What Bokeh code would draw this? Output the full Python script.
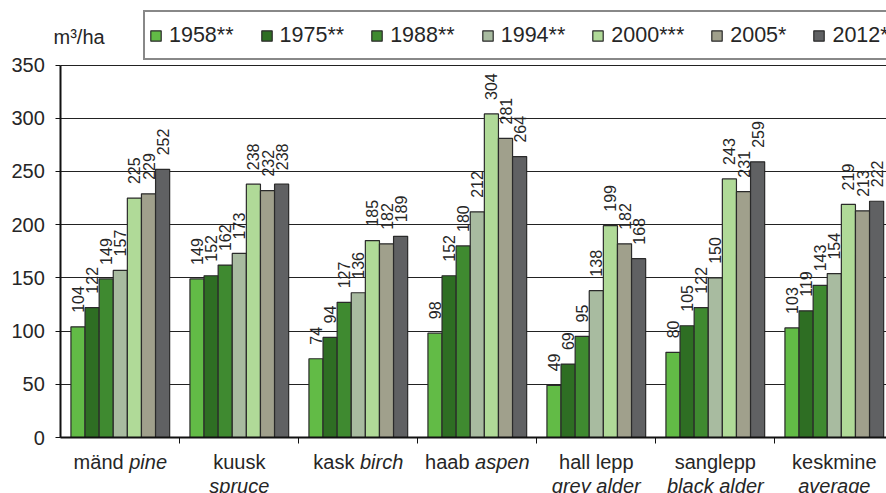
import numpy as np
from bokeh.plotting import figure
from bokeh.models import Range1d, FixedTicker, Legend, LegendItem, Label, Grid
from bokeh.embed import file_html
from bokeh.resources import INLINE
from bokeh.core.properties import value

# ---- data ----
categories_et = ["mänd", "kuusk", "kask", "haab", "hall lepp", "sanglepp", "keskmine"]
categories_en = ["pine", "spruce", "birch", "aspen", "grey alder", "black alder", "average"]
years = ["1958**", "1975**", "1988**", "1994**", "2000***", "2005*", "2012*"]
v1958 = [104, 149, 74, 98, 49, 80, 103]
v1975 = [122, 152, 94, 152, 69, 105, 119]
v1988 = [149, 162, 127, 180, 95, 122, 143]
v1994 = [157, 173, 136, 212, 138, 150, 154]
v2000 = [225, 238, 185, 304, 199, 243, 219]
v2005 = [229, 232, 182, 281, 182, 231, 213]
v2012 = [252, 238, 189, 264, 168, 259, 222]
y_ticks = [0, 50, 100, 150, 200, 250, 300, 350]
unit_label = "m³/ha"

series = [v1958, v1975, v1988, v1994, v2000, v2005, v2012]
colors = ["#62BB46", "#2E6E23", "#3F8A30", "#A8BBA0", "#B0DA98", "#A0A08C", "#606163"]
two_line = [False, True, False, False, True, True, True]

FONT = "Liberation Sans"
TXT = "#262626"

W, H = 886, 493
# pixel geometry of the plotting area (screen px)
AX_X = 60.3        # y-axis line x
AX_Y = 437.0       # x-axis line y (value 0)
CAT_W = 119.0      # px per category
PX_PER_VAL = 372.5 / 350.0

x_start = -AX_X / CAT_W
x_end = (W - AX_X) / CAT_W
y_end = AX_Y / PX_PER_VAL
y_start = (AX_Y - H) / PX_PER_VAL

p = figure(width=W, height=H, output_backend="svg", toolbar_location=None,
           title=None, x_range=Range1d(x_start, x_end), y_range=Range1d(y_start, y_end),
           min_border=0, min_border_left=0, min_border_right=0, min_border_top=0,
           min_border_bottom=0)
p.background_fill_color = "white"
p.border_fill_color = "white"
p.outline_line_color = None

n = len(categories_et)
bw = 0.1185
cx = np.arange(n) + 0.5
renderers = []
for j, (vals, col) in enumerate(zip(series, colors)):
    xs = cx + (j - 3) * bw
    r = p.vbar(x=xs, top=vals, width=bw, bottom=0, fill_color=col,
               line_color="#2a2a2a", line_width=1.2)
    renderers.append(r)
    p.text(x=xs, y=vals, text=[str(v) for v in vals], angle=np.pi / 2,
           text_align="left", text_baseline="middle", y_offset=-14,
           text_font=value(FONT), text_font_size="16px", text_color=TXT)

# axes (fixed inside the frame so that all annotations share the frame)
p.yaxis.fixed_location = 0
p.yaxis.bounds = (0, 350)
p.yaxis.ticker = FixedTicker(ticks=y_ticks)
p.yaxis.major_label_text_font = FONT
p.yaxis.major_label_text_font_size = "20px"
p.yaxis.major_label_text_color = TXT
p.yaxis.major_tick_in = 0
p.yaxis.major_tick_out = 5
p.yaxis.minor_tick_line_color = None
p.yaxis.major_label_standoff = 11
p.yaxis.axis_line_width = 2
p.yaxis.axis_line_color = "#111111"
p.yaxis.major_tick_line_color = "#111111"

p.xaxis.fixed_location = 0
p.xaxis.bounds = (0, x_end)
p.xaxis.ticker = FixedTicker(ticks=list(range(1, n)))
p.xaxis.major_label_overrides = {i: "" for i in range(1, n)}
p.xaxis.major_tick_in = 0
p.xaxis.major_tick_out = 6
p.xaxis.minor_tick_line_color = None
p.xaxis.axis_line_width = 2
p.xaxis.axis_line_color = "#111111"
p.xaxis.major_tick_line_color = "#111111"

p.xgrid.grid_line_color = None
p.ygrid.ticker = FixedTicker(ticks=y_ticks)
p.ygrid.grid_line_color = "#222222"
p.ygrid.grid_line_width = 1.2
if "cross_bounds" in Grid.properties():
    p.ygrid.cross_bounds = (0, x_end)
p.ygrid.bounds = (0, 350)

# category labels (normal Estonian + italic English)
cw = {'a': .556, 'b': .556, 'c': .5, 'd': .556, 'e': .556, 'g': .556, 'h': .556,
      'i': .222, 'k': .5, 'l': .222, 'm': .833, 'n': .556, 'p': .556, 'r': .333,
      's': .5, 'u': .556, 'ä': .556, ' ': .278, 't': .278, 'v': .5, 'y': .5, 'o': .556}
fs = 20.0
def tw(s):
    return sum(cw.get(ch, .556) for ch in s) * fs

y_line1 = (AX_Y - 461.0) / PX_PER_VAL
y_line2 = (AX_Y - 485.5) / PX_PER_VAL
for i in range(n):
    et, en = categories_et[i], categories_en[i]
    if two_line[i]:
        p.add_layout(Label(x=cx[i], y=y_line1, text=et, text_align="center",
                           text_baseline="alphabetic", text_font=FONT,
                           text_font_size="20px", text_color=TXT))
        p.add_layout(Label(x=cx[i], y=y_line2, text=en, text_align="center",
                           text_baseline="alphabetic", text_font=FONT,
                           text_font_style="italic",
                           text_font_size="20px", text_color=TXT))
    else:
        total = tw(et) + tw(" ") + tw(en)
        end_norm = -total / 2 + tw(et)
        start_it = end_norm + tw(" ")
        p.add_layout(Label(x=cx[i], y=y_line1, text=et, text_align="right",
                           x_offset=end_norm, text_baseline="alphabetic",
                           text_font=FONT, text_font_size="20px", text_color=TXT))
        p.add_layout(Label(x=cx[i], y=y_line1, text=en, text_align="left",
                           x_offset=start_it, text_baseline="alphabetic",
                           text_font=FONT, text_font_style="italic",
                           text_font_size="20px", text_color=TXT))

# unit label
p.add_layout(Label(x=(53.0 - AX_X) / CAT_W, y=(AX_Y - 36.0) / PX_PER_VAL, text=unit_label,
                   text_align="left", text_baseline="alphabetic", text_font=FONT,
                   text_font_size="20px", text_color=TXT))

legend = Legend(items=[LegendItem(label=y, renderers=[r]) for y, r in zip(years, renderers)],
                orientation="horizontal", location=(143, H - 60),
                glyph_width=13, glyph_height=13, label_standoff=7, spacing=26,
                padding=4, margin=0, label_height=38,
                label_text_font=FONT, label_text_font_size="21.5px",
                label_text_color=TXT, border_line_color="#111111",
                border_line_width=2, background_fill_color="white",
                background_fill_alpha=1.0)
p.add_layout(legend, "center")

open("out.html", "w").write(file_html(p, INLINE))
